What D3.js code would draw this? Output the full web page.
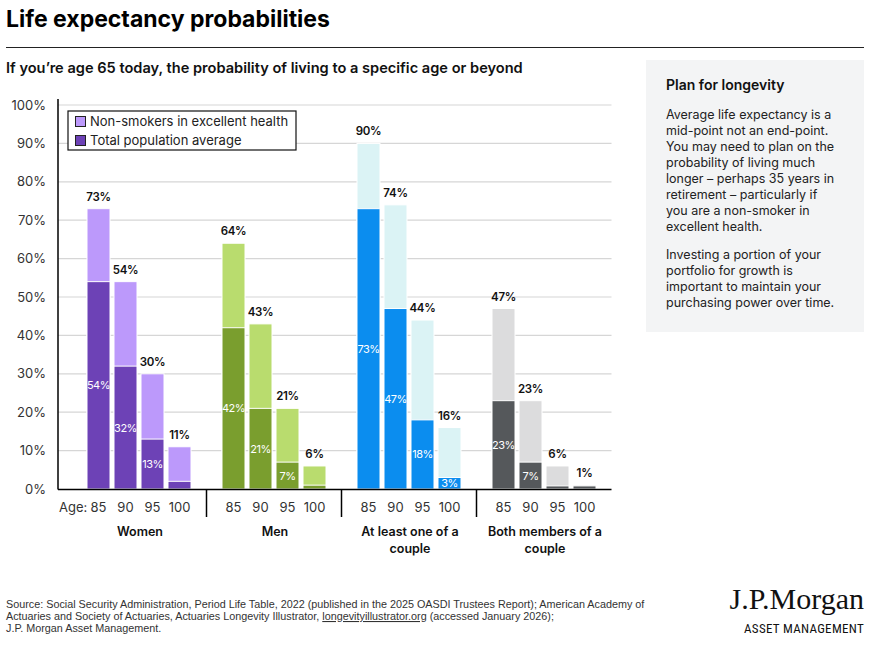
<!DOCTYPE html>
<html><head><meta charset="utf-8">
<script src="https://cdn.jsdelivr.net/npm/d3@7"></script>
<style>
body{margin:0;background:#fff;}
svg{display:block;}
</style></head>
<body>
<svg id="chart" width="876" height="648"></svg>
<script>
// ---- data ----
const groups = ["Women", "Men", "At least one of a couple", "Both members of a couple"];
const groupLines = [["Women"], ["Men"], ["At least one of a", "couple"], ["Both members of a", "couple"]];
const ages = ["85", "90", "95", "100"];
const nonSmokers = [
  [73, 54, 30, 11],
  [64, 43, 21, 6],
  [90, 74, 44, 16],
  [47, 23, 6, 1]
];
const totalPop = [
  [54, 32, 13, 2],
  [42, 21, 7, 1],
  [73, 47, 18, 3],
  [23, 7, 0.8, 0.8]
];
const lightColors = ["#BC99FB", "#B9DC6E", "#DBF3F5", "#DCDCDD"];
const darkColors = ["#6D42B6", "#7A9E2E", "#0B8DEF", "#55585B"];
const yTicks = [0, 10, 20, 30, 40, 50, 60, 70, 80, 90, 100];
const legendLabels = ["Non-smokers in excellent health", "Total population average"];

const svg = d3.select("#chart");
const F = "Inter, 'Noto Sans', sans-serif";

// title
svg.append("text").attr("x", 6).attr("y", 27).attr("font-family", F)
  .attr("font-weight", 700).attr("font-size", 23).attr("fill", "#000").text("Life expectancy probabilities");
svg.append("line").attr("x1", 6).attr("x2", 864).attr("y1", 47.5).attr("y2", 47.5).attr("stroke", "#222").attr("stroke-width", 1);
svg.append("text").attr("x", 6).attr("y", 73).attr("font-family", F).attr("font-weight", 600)
  .attr("font-size", 14.6).attr("fill", "#111").text("If you\u2019re age 65 today, the probability of living to a specific age or beyond");

// scales
const y = d3.scaleLinear().domain([0, 100]).range([489, 105]);
const x0 = d3.scaleBand().domain(groups).range([71.5, 611.5]).padding(0);
const x1 = d3.scaleBand().domain(ages).range([11.5, 123.5]).padding(4 / 27);
const axisLeft = 58, axisRight = 611.5;

// gridlines
svg.append("g").selectAll("line").data(yTicks.filter(d => d > 0)).join("line")
  .attr("x1", axisLeft).attr("x2", axisRight)
  .attr("y1", d => y(d)).attr("y2", d => y(d))
  .attr("stroke", "#D6D6D6").attr("stroke-width", 1.2);

// y axis
const ya = svg.append("g").attr("transform", `translate(${axisLeft},0)`)
  .call(d3.axisLeft(y).tickValues(yTicks).tickFormat(d => d + "%").tickSize(0).tickPadding(12));
ya.select(".domain").remove();
ya.selectAll("text").attr("font-family", F).attr("font-size", 13).attr("fill", "#333");
svg.append("line").attr("x1", axisLeft).attr("x2", axisLeft).attr("y1", 99).attr("y2", 489.5)
  .attr("stroke", "#000").attr("stroke-width", 1.5);

// bars
groups.forEach((g, gi) => {
  const gg = svg.append("g").attr("transform", `translate(${x0(g)},0)`);
  const rows = ages.map((a, ai) => ({ a, tot: nonSmokers[gi][ai], dark: totalPop[gi][ai] }));
  gg.selectAll("rect.light").data(rows).join("rect").attr("class", "light")
    .attr("x", d => x1(d.a)).attr("width", x1.bandwidth())
    .attr("y", d => y(d.tot)).attr("height", d => y(0) - y(d.tot))
    .attr("fill", lightColors[gi]).attr("stroke", "#fff").attr("stroke-width", 1);
  gg.selectAll("rect.dark").data(rows).join("rect").attr("class", "dark")
    .attr("x", d => x1(d.a)).attr("width", x1.bandwidth())
    .attr("y", d => y(d.dark)).attr("height", d => y(0) - y(d.dark))
    .attr("fill", darkColors[gi]).attr("stroke", "#fff").attr("stroke-width", 1);
  gg.selectAll("text.tot").data(rows).join("text").attr("class", "tot")
    .attr("x", d => x1(d.a) + x1.bandwidth() / 2).attr("y", d => y(d.tot) - 8)
    .attr("text-anchor", "middle").attr("font-family", F).attr("font-weight", 600)
    .attr("font-size", 11.5).attr("letter-spacing", -0.3).attr("fill", "#111").text(d => d.tot + "%");
  gg.selectAll("text.in").data(rows.filter(d => d.dark >= 3)).join("text").attr("class", "in")
    .attr("x", d => x1(d.a) + x1.bandwidth() / 2).attr("y", d => (y(d.dark) + y(0)) / 2 + 4)
    .attr("text-anchor", "middle").attr("font-family", F)
    .attr("font-size", 11).attr("letter-spacing", -0.5).attr("fill", "#fff").text(d => d.dark + "%");
  // age labels
  gg.selectAll("text.age").data(ages).join("text").attr("class", "age")
    .attr("x", d => x1(d) + x1.bandwidth() / 2).attr("y", 512)
    .attr("text-anchor", "middle").attr("font-family", F).attr("font-size", 13).attr("fill", "#333").text(d => d);
  // group label
  const gl = gg.append("text").attr("text-anchor", "middle").attr("font-family", F).attr("font-weight", 600)
    .attr("font-size", 12.5).attr("fill", "#111");
  groupLines[gi].forEach((ln, li) => {
    gl.append("tspan").attr("x", x0.bandwidth() / 2 + 1).attr("y", 536 + li * 16.5).text(ln);
  });
});

// x axis line and separators
svg.append("line").attr("x1", axisLeft).attr("x2", axisRight).attr("y1", 489.5).attr("y2", 489.5)
  .attr("stroke", "#000").attr("stroke-width", 1.5);
svg.append("g").selectAll("line").data(groups.slice(1)).join("line")
  .attr("x1", d => x0(d)).attr("x2", d => x0(d)).attr("y1", 489).attr("y2", 517)
  .attr("stroke", "#000").attr("stroke-width", 1.5);
svg.append("text").attr("x", 59).attr("y", 512).attr("font-family", F).attr("font-size", 13).attr("fill", "#333").text("Age:");

// legend
const lg = svg.append("g");
lg.append("rect").attr("x", 68).attr("y", 111).attr("width", 228).attr("height", 39)
  .attr("fill", "#fff").attr("stroke", "#111").attr("stroke-width", 1.2);
legendLabels.forEach((lab, i) => {
  lg.append("rect").attr("x", 75.5).attr("y", 116.5 + i * 19).attr("width", 10).attr("height", 10)
    .attr("fill", i === 0 ? lightColors[0] : darkColors[0]).attr("stroke", "#222").attr("stroke-width", 1);
  lg.append("text").attr("x", 90).attr("y", 126 + i * 19).attr("font-family", F).attr("font-size", 13)
    .attr("fill", "#222").text(lab);
});

// side panel
svg.append("rect").attr("x", 646).attr("y", 60).attr("width", 218).attr("height", 272).attr("fill", "#F3F4F5");
svg.append("text").attr("x", 666).attr("y", 90).attr("font-family", F).attr("font-weight", 600)
  .attr("font-size", 14).attr("fill", "#111").text("Plan for longevity");
const para1 = ["Average life expectancy is a", "mid-point not an end-point.", "You may need to plan on the",
  "probability of living much", "longer \u2013 perhaps 35 years in", "retirement \u2013 particularly if",
  "you are a non-smoker in", "excellent health."];
const para2 = ["Investing a portion of your", "portfolio for growth is", "important to maintain your",
  "purchasing power over time."];
const pt = svg.append("text").attr("font-family", F).attr("font-size", 12.5).attr("fill", "#222");
para1.forEach((l, i) => pt.append("tspan").attr("x", 666).attr("y", 119 + i * 16).text(l));
para2.forEach((l, i) => pt.append("tspan").attr("x", 666).attr("y", 259 + i * 16).text(l));

// footer
const src = svg.append("text").attr("font-family", "'Liberation Sans', Arial, sans-serif").attr("font-size", 10.8).attr("fill", "#333");
src.append("tspan").attr("x", 6).attr("y", 608).text("Source: Social Security Administration, Period Life Table, 2022 (published in the 2025 OASDI Trustees Report); American Academy of");
const l2 = src.append("tspan").attr("x", 6).attr("y", 620);
l2.append("tspan").text("Actuaries and Society of Actuaries, Actuaries Longevity Illustrator, ");
l2.append("tspan").attr("text-decoration", "underline").text("longevityillustrator.org");
l2.append("tspan").text(" (accessed January 2026);");
src.append("tspan").attr("x", 6).attr("y", 632).text("J.P. Morgan Asset Management.");

// logo
svg.append("text").attr("x", 864).attr("y", 609).attr("text-anchor", "end")
  .attr("font-family", "'Liberation Serif', 'DejaVu Serif', serif").attr("font-size", 30).attr("letter-spacing", 0)
  .attr("fill", "#111").text("J.P.Morgan");
svg.append("text").attr("x", 864).attr("y", 633).attr("text-anchor", "end")
  .attr("font-family", "'Roboto', 'Liberation Sans', sans-serif").attr("font-size", 13).attr("font-stretch", "condensed")
  .attr("letter-spacing", 0.3).attr("fill", "#111").text("ASSET MANAGEMENT");
</script>
</body></html>
